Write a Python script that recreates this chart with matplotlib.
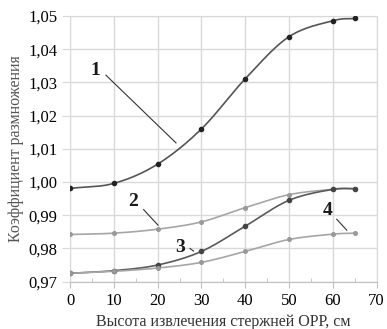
import numpy as np
import matplotlib.pyplot as plt
from matplotlib.ticker import MultipleLocator, FuncFormatter

# data
height = [0, 10, 20, 30, 40, 50, 60, 65]
k_curve1 = [0.9981, 0.9996, 1.0054, 1.0160, 1.0311, 1.0438, 1.0486, 1.0493]
k_curve2 = [0.9842, 0.9846, 0.9858, 0.9880, 0.9923, 0.9962, 0.9978, 0.9980]
k_curve3 = [0.9725, 0.9733, 0.9750, 0.9791, 0.9867, 0.9945, 0.9978, 0.9980]
k_curve4 = [0.9725, 0.9731, 0.9741, 0.9758, 0.9791, 0.9827, 0.9843, 0.9846]


def smooth(x, y, n=20):
    """Catmull-Rom curve through the points (like Excel smoothed lines)."""
    x = np.asarray(x, float)
    y = np.asarray(y, float)
    px = np.concatenate([[2 * x[0] - x[1]], x, [2 * x[-1] - x[-2]]])
    py = np.concatenate([[2 * y[0] - y[1]], y, [2 * y[-1] - y[-2]]])
    xs, ys = [], []
    t = np.linspace(0, 1, n)
    for i in range(1, len(px) - 2):
        for p, out in ((px, xs), (py, ys)):
            p0, p1, p2, p3 = p[i - 1], p[i], p[i + 1], p[i + 2]
            out.extend(0.5 * (2 * p1 + (-p0 + p2) * t
                              + (2 * p0 - 5 * p1 + 4 * p2 - p3) * t ** 2
                              + (-p0 + 3 * p1 - 3 * p2 + p3) * t ** 3))
    return xs, ys


plt.rcParams['font.family'] = ['Liberation Serif', 'DejaVu Serif']

fig = plt.figure(figsize=(3.87, 3.29), dpi=100)
ax = fig.add_axes([0.181, 0.144, 0.792, 0.807])

dark = '#5a5a5a'
light = '#a6a6a6'
series = [(k_curve1, '#555555', '#222222', 3.0),
          (k_curve2, light, '#999999', 2.6),
          (k_curve3, dark, '#444444', 3.0),
          (k_curve4, light, '#999999', 2.6)]
for vals, lc, mc, ms in series:
    sx, sy = smooth(height, vals)
    ax.plot(sx, sy, color=lc, lw=1.2, zorder=3)
    ax.plot(height, vals, 'o', color=mc, ms=ms, zorder=4)

ax.set_xlim(0, 70)
ax.set_ylim(0.97, 1.05)
ax.xaxis.set_major_locator(MultipleLocator(10))
ax.xaxis.set_minor_locator(MultipleLocator(5))
ax.yaxis.set_major_locator(MultipleLocator(0.01))
ax.yaxis.set_major_formatter(FuncFormatter(lambda v, p: f'{v:.2f}'.replace('.', ',')))
ax.grid(True, which='major', color='#d9d9d9', lw=1)
for s in ax.spines.values():
    s.set_color('#d9d9d9')
ax.spines['bottom'].set_color('#bfbfbf')
ax.tick_params(axis='x', which='major', length=4, color='#bfbfbf', labelsize=12, pad=4)
ax.tick_params(axis='x', which='minor', direction='in', length=3, color='#bfbfbf')
ax.tick_params(axis='y', which='major', length=6, color='#d9d9d9', labelsize=12, pad=3)

ax.set_xlabel('Высота извлечения стержней ОРР, см', fontsize=11.5, color='#333333', labelpad=4)
ax.set_ylabel('Коэффициент размножения', fontsize=11.5, color='#555555', labelpad=3)

# curve number labels with leader lines
labels = [('1', 5.7, 1.0336, (8.2, 1.0322), (24.2, 1.0118)),
          ('2', 14.4, 0.9942, (16.8, 0.9917), (20.1, 0.9870)),
          ('3', 25.1, 0.9804, (27.4, 0.9800), (28.2, 0.9792)),
          ('4', 58.9, 0.9914, (60.9, 0.9888), (63.2, 0.9855))]
for txt, tx, ty, p0, p1 in labels:
    ax.text(tx, ty, txt, fontsize=14, fontweight='bold', ha='center', va='center',
            color='#1a1a1a', zorder=5)
    ax.plot([p0[0], p1[0]], [p0[1], p1[1]], color='#333333', lw=0.8, zorder=5)

fig.savefig('out.png', dpi=100)
